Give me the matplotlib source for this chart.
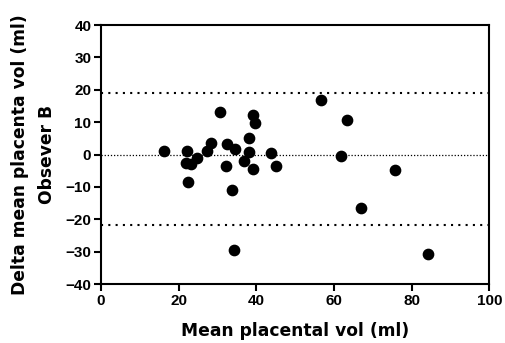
import matplotlib.pyplot as plt

# Bland-Altman data: mean volume vs difference (observer B)
mean_vol = [16.1, 22.1, 21.9, 23.1, 24.6, 22.4, 27.4, 28.3, 30.6, 32.2,
            32.5, 33.7, 34.5, 38.2, 38.0, 36.8, 39.2, 39.7, 39.2, 43.9,
            45.1, 34.3, 56.6, 63.4, 61.9, 75.8, 67.0, 84.1]
delta_vol = [1.2, 1.1, -2.5, -2.9, -1.2, -8.6, 1.1, 3.5, 13.0, -3.5,
             3.2, -11.0, 1.7, 5.0, 0.9, -1.9, 12.2, 9.6, -4.5, 0.4,
             -3.5, -29.5, 16.7, 10.6, -0.5, -4.8, -16.6, -30.7]
upper_loa = 18.9
lower_loa = -21.8
x_ticks = [0, 20, 40, 60, 80, 100]
y_ticks = [-40, -30, -20, -10, 0, 10, 20, 30, 40]

plt.rcParams["font.family"] = ["Liberation Sans", "DejaVu Sans"]
plt.rcParams["font.weight"] = "bold"

fig = plt.figure(figsize=(5.05, 3.43), dpi=100)
ax = fig.add_axes([0.2, 0.172, 0.769, 0.755])

ax.axhline(upper_loa, color="black", linestyle=(0, (1, 2.5)), linewidth=1.5)
ax.axhline(lower_loa, color="black", linestyle=(0, (1, 2.5)), linewidth=1.5)
ax.axhline(0, color="black", linestyle=(0, (1, 1.5)), linewidth=0.9)
ax.scatter(mean_vol, delta_vol, s=55, color="black", zorder=3)

ax.set_xlim(0, 100)
ax.set_ylim(-40, 40)
ax.set_xticks(x_ticks)
ax.set_yticks(y_ticks)
ax.tick_params(direction="out", length=5, width=1.5, pad=2)
for lbl in ax.get_xticklabels() + ax.get_yticklabels():
    lbl.set_fontweight("bold")
    lbl.set_fontsize(11)
for side in ["left", "bottom", "top", "right"]:
    ax.spines[side].set_linewidth(1.5)

label_font = dict(family="DejaVu Sans", size=12.3, weight="bold")
ax.set_xlabel("Mean placental vol (ml)", fontdict=label_font, labelpad=10)
ax.set_ylabel("Delta mean placenta vol (ml)\nObsever B", fontdict=label_font,
              labelpad=7, linespacing=1.6)

fig.savefig("out.png", dpi=100)
